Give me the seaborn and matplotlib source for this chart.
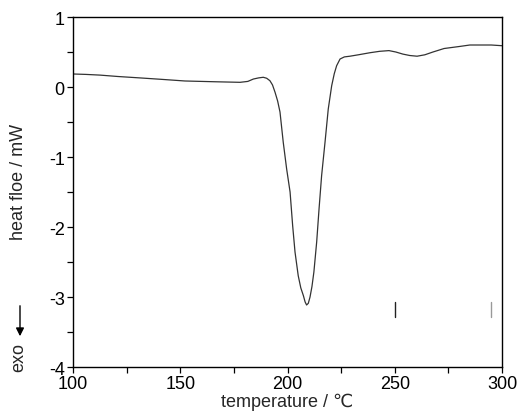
import matplotlib
matplotlib.use("Agg")
import matplotlib.pyplot as plt
import seaborn as sns
import pandas as pd

# DSC curve
temperature = [100, 106.0, 112.6, 121.0, 131.2, 141.0, 152.2, 166.2, 177.9, 181.5,
               184.1, 186.5, 188.7, 190.3, 191.8, 193.0, 194.2, 195.4, 196.5, 198.0,
               199.6, 201.2, 202.4, 203.5, 205.0, 206.2, 207.4, 208.2, 208.9, 209.7,
               210.5, 211.4, 212.3, 213.6, 214.7, 215.9, 217.5, 219.0, 220.6, 221.8,
               222.9, 224.5, 226.5, 229.1, 233.0, 238.5, 243.0, 247.3, 250.5, 253.8,
               257.0, 260.4, 264.0, 267.8, 273.0, 280.4, 285.0, 289.7, 295.0, 300]
heat_flow = [0.186, 0.18, 0.17, 0.15, 0.13, 0.11, 0.086, 0.075, 0.067, 0.08,
             0.114, 0.13, 0.139, 0.125, 0.09, 0.03, -0.076, -0.2, -0.357, -0.786,
             -1.171, -1.5, -1.98, -2.357, -2.696, -2.87, -2.98, -3.07, -3.114, -3.09,
             -3.0, -2.85, -2.643, -2.214, -1.743, -1.267, -0.786, -0.314, 0.019, 0.19,
             0.304, 0.4, 0.43, 0.44, 0.46, 0.49, 0.51, 0.52, 0.5, 0.47,
             0.45, 0.44, 0.46, 0.5, 0.55, 0.58, 0.6, 0.6, 0.6, 0.59]

# two small marker strokes near the bottom
mark_temps = [250, 294.9]
mark_low = -3.29
mark_high = -3.07
mark_colors = ["#222222", "#999999"]

df = pd.DataFrame({"temperature": temperature, "heat_flow": heat_flow})

sns.set_style("ticks")
plt.rcParams["font.family"] = ["Liberation Sans", "DejaVu Sans"]
plt.rcParams["axes.unicode_minus"] = False

fig = plt.figure(figsize=(5.17, 4.14), dpi=100)
ax = fig.add_axes([0.1412, 0.1111, 0.8298, 0.8454])

sns.lineplot(data=df, x="temperature", y="heat_flow", ax=ax, color="#333333", linewidth=0.9)

for t, c in zip(mark_temps, mark_colors):
    ax.plot([t, t], [mark_low, mark_high], color=c, linewidth=1.0)

ax.set_xlim(100, 300)
ax.set_ylim(-4, 1)
ax.set_xticks([100, 150, 200, 250, 300])
ax.set_xticks([125, 175, 225, 275], minor=True)
ax.set_yticks([-4, -3, -2, -1, 0, 1])
ax.set_yticks([-3.5, -2.5, -1.5, -0.5, 0.5], minor=True)
ax.tick_params(axis="both", which="both", direction="out", length=4, width=0.9,
               labelsize=13, colors="black", pad=2)

for side in ["left", "right", "top", "bottom"]:
    ax.spines[side].set_visible(True)
    ax.spines[side].set_linewidth(1.0)
    ax.spines[side].set_color("black")

ax.set_xlabel("temperature / ℃", fontsize=13, labelpad=0)
ax.set_ylabel("")
fig.text(19 / 517, 1 - 182 / 414, "heat floe / mW", rotation=90, ha="center", va="center",
         fontsize=13)
fig.text(19 / 517, 1 - 357 / 414, "exo", rotation=90, ha="center", va="center", fontsize=13)
fig.patches.append(matplotlib.patches.FancyArrowPatch(
    (20 / 517, 1 - 304 / 414), (20 / 517, 1 - 340 / 414), transform=fig.transFigure,
    arrowstyle="-|>", mutation_scale=12, color="black", linewidth=1.0))

fig.savefig("out.png", dpi=100)
